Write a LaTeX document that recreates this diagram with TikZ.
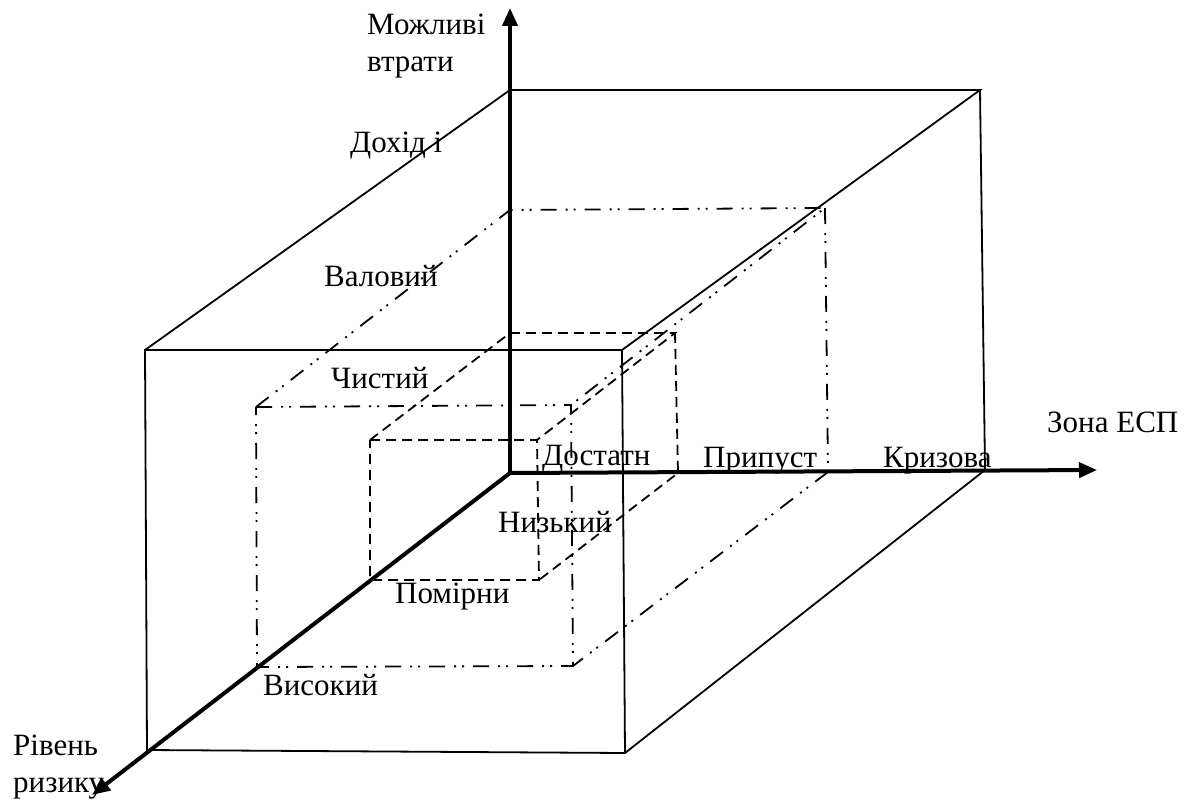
\documentclass[tikz,border=0pt]{standalone}
\usepackage{fontspec}
\setmainfont{Liberation Serif}
\usetikzlibrary{arrows.meta}

\begin{document}
\begin{tikzpicture}[
    x=1pt, y=-1pt,
    axis/.style={-{Triangle[length=18pt,width=15pt]}, line width=4pt},
    outer/.style={line width=1.8pt},
    zone/.style={line width=1.8pt, dash pattern=on 16pt off 9pt on 2pt off 6pt on 2pt off 9pt},
    inner/.style={line width=1.8pt, dash pattern=on 10pt off 6pt},
    lbl/.style={font=\fontsize{31}{37}\selectfont, inner sep=0pt, anchor=base west, align=left}
]
\useasboundingbox (0,0) rectangle (1193,802);

% outer box
\coordinate (O) at (510,473);
\coordinate (b1) at (510,90);
\coordinate (b2) at (980,90);
\coordinate (b3) at (985,470);
\coordinate (f1) at (145,350);
\coordinate (f2) at (622,350);
\coordinate (f3) at (625,753);
\coordinate (f4) at (147,750);

% middle box (dash-dot-dot)
\coordinate (m1) at (510,210);
\coordinate (m2) at (825,208);
\coordinate (m3) at (828,472);
\coordinate (n1) at (256,407);
\coordinate (n2) at (571,405);
\coordinate (n3) at (573,666);
\coordinate (n4) at (257,667);

% inner box (dashed)
\coordinate (i1) at (510,333);
\coordinate (i2) at (675,333);
\coordinate (i3) at (678,473);
\coordinate (j1) at (370,440);
\coordinate (j2) at (537,440);
\coordinate (j3) at (539,580);
\coordinate (j4) at (370,580);

% axis ends
\coordinate (yend) at (510,8);
\coordinate (xend) at (1097,470);
\coordinate (zend) at (92,795);

\draw[outer] (f1) -- (f2) -- (f3) -- (f4) -- cycle;
\draw[outer] (f1) -- (b1) -- (b2) -- (f2);
\draw[outer] (b2) -- (b3) -- (f3);

\draw[zone] (n1) -- (n2) -- (n3) -- (n4) -- cycle;
\draw[zone] (n1) -- (m1) -- (m2) -- (n2);
\draw[zone] (m2) -- (m3) -- (n3);

\draw[inner] (j1) -- (j2) -- (j3) -- (j4) -- cycle;
\draw[inner] (j1) -- (i1) -- (i2) -- (j2);
\draw[inner] (i2) -- (i3) -- (j3);

\draw[axis] (O) -- (yend);
\draw[axis] (O) -- (xend);
\draw[axis] (O) -- (zend);

% labels
\node[lbl] (losses) at (367,72) {Можливі\\втрати};
\node[lbl] (income) at (350,153) {Дохід і};
\node[lbl] (gross) at (324,287) {Валовий};
\node[lbl] (net) at (331,388) {Чистий};
\node[lbl] (zone) at (1047,432) {Зона ЕСП};
\node[lbl] (enough) at (542,465) {Достатн};
\node[lbl] (allowed) at (703,467) {Припуст};
\node[lbl] (crisis) at (883,467) {Кризова};
\node[lbl] (low) at (498,532) {Низький};
\node[lbl] (moderate) at (395,603) {Помірни};
\node[lbl] (high) at (263,695) {Високий};
\node[lbl] (risk) at (13,792) {Рівень\\ризику};
\end{tikzpicture}
\end{document}
